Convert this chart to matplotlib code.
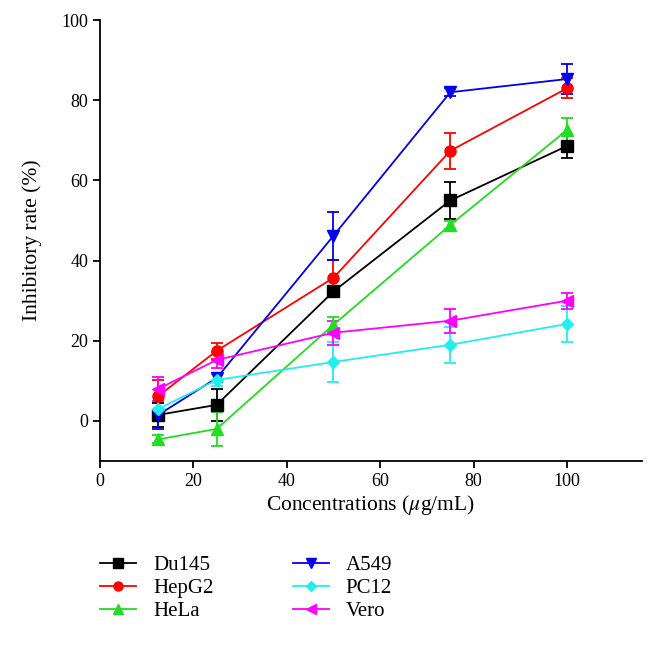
import matplotlib.pyplot as plt
import numpy as np
from matplotlib.lines import Line2D

plt.rcParams["font.family"] = ["Liberation Serif", "DejaVu Serif"]
plt.rcParams["mathtext.fontset"] = "stix"
plt.rcParams["font.size"] = 13

# Концентрации, мкг/мл
conc = [12.5, 25, 50, 75, 100]

du145 = [1.5, 4.0, 32.3, 55.0, 68.6]
du145_err = [3.0, 4.0, 1.0, 4.7, 3.0]
hepg2 = [6.2, 17.5, 35.7, 67.4, 83.0]
hepg2_err = [4.0, 2.0, 4.5, 4.5, 2.5]
hela = [-4.6, -2.0, 24.0, 48.9, 72.6]
hela_err = [1.0, 4.3, 2.0, 1.0, 3.0]
a549 = [1.5, 10.7, 46.2, 82.0, 85.3]
a549_err = [3.5, 1.0, 6.0, 1.0, 3.8]
pc12 = [3.0, 10.2, 14.7, 19.0, 24.2]
pc12_err = [2.0, 1.5, 5.0, 4.5, 4.5]
vero = [8.0, 15.2, 22.0, 25.0, 30.0]
vero_err = [3.0, 2.0, 3.0, 3.0, 2.0]

series = [
    ("Du145", du145, du145_err, "black", "s"),
    ("HepG2", hepg2, hepg2_err, "#ff0000", "o"),
    ("HeLa", hela, hela_err, "#22dd22", "^"),
    ("A549", a549, a549_err, "#0000ee", "v"),
    ("PC12", pc12, pc12_err, "#22eeee", "D"),
    ("Vero", vero, vero_err, "#ff00ff", "<"),
]

fig = plt.figure(figsize=(6.57, 6.61), dpi=100)
ax = fig.add_axes([0.152, 0.3026, 0.825, 0.667])

handles = []
for name, vals, errs, color, marker in series:
    msize = 6.5 if marker == "D" else 8
    ax.errorbar(conc, vals, yerr=errs, color=color, marker=marker,
                markersize=msize, linewidth=1.3, elinewidth=1.3,
                capsize=4, capthick=1.3)
    # для легенды — только линия с маркером, без усов
    handles.append(Line2D([], [], color=color, marker=marker,
                          markersize=msize - 1.5, linewidth=1.3))

ax.set_xlim(0, 116)
ax.set_ylim(-10, 100)
ax.set_xticks(np.arange(0, 101, 20))
ax.set_yticks(np.arange(0, 101, 20))
ax.spines["top"].set_visible(False)
ax.spines["right"].set_visible(False)
ax.spines["left"].set_linewidth(1.3)
ax.spines["bottom"].set_linewidth(1.3)
ax.tick_params(direction="out", length=5, width=1.3, labelsize=13)
ax.set_xlabel(r"Concentrations ($\mu$g/mL)", fontsize=15.5, labelpad=2)
ax.set_ylabel("Inhibitory rate (%)", fontsize=15.5, labelpad=14)

fig.legend(handles=handles, labels=[s[0] for s in series], ncol=2,
           loc="upper left", bbox_to_anchor=(0.152, 0.160), frameon=False,
           fontsize=15, columnspacing=3.8, handlelength=1.75,
           handletextpad=0.8, labelspacing=0.18, borderpad=0,
           borderaxespad=0)

fig.savefig("out.png", dpi=100)
